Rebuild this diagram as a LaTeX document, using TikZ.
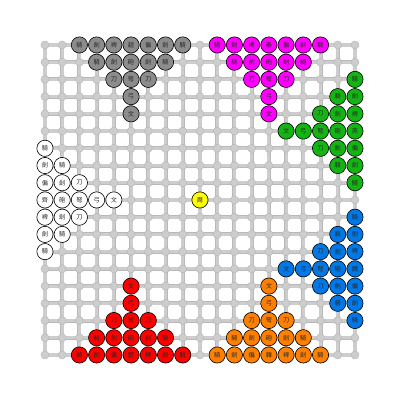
\documentclass[tikz,border=0pt]{standalone}
\usepackage{fontspec}
\newfontfamily\cjk{Noto Sans CJK TC}[BoldFont={Noto Sans CJK TC}]
\definecolor{pgray}{RGB}{140,140,140}
\definecolor{pmag}{RGB}{255,0,255}
\definecolor{pgreen}{RGB}{20,180,20}
\definecolor{pblue}{RGB}{0,120,230}
\definecolor{porange}{RGB}{255,128,0}
\definecolor{pred}{RGB}{255,0,0}
\definecolor{pyellow}{RGB}{255,255,0}
\definecolor{pwhite}{RGB}{255,255,255}
\definecolor{gridedge}{RGB}{185,185,185}
\definecolor{gridfill}{RGB}{205,205,205}
\definecolor{ptext}{RGB}{40,40,40}
\begin{document}
\begin{tikzpicture}[x=0.5cm,y=0.5cm,
  piece/.style={circle,draw=black,line width=0.5pt,minimum size=13.4pt,inner sep=0pt,text=ptext,font=\cjk\fontsize{5.1}{6}\selectfont},
  gridline/.style={line width=2.6pt,gridfill},
  gridedgeline/.style={line width=3.3pt,gridedge},
  gridpt/.style={circle,fill=gridfill,draw=gridedge,line width=0.4pt,minimum size=6.6pt,inner sep=0pt}]
\useasboundingbox (-2.61,2.61) rectangle (20.73,-20.73);
% grid
\foreach \i in {0,...,18}{
  \draw[gridedgeline] (\i,0) -- (\i,-18);
  \draw[gridedgeline] (0,-\i) -- (18,-\i);
}
\foreach \i in {0,...,18}{
  \draw[gridline] (\i,0) -- (\i,-18);
  \draw[gridline] (0,-\i) -- (18,-\i);
}
\foreach \i in {0,...,18}{
  \foreach \j in {0,...,18}{
    \node[gridpt] (g-\i-\j) at (\i,-\j) {};
  }
}
% Zhao (gray, top left)
\foreach \c/\r/\t in {2/0/騎,3/0/劍,4/0/裨,5/0/趙,6/0/偏,7/0/劍,8/0/騎,3/1/騎,4/1/劍,5/1/砲,6/1/劍,7/1/騎,4/2/刀,5/2/弩,6/2/刀,5/3/弓,5/4/文}
  \node[piece,fill=pgray] (p-\c-\r) at (\c,-\r) {\t};
% Qin (magenta, top right)
\foreach \c/\r/\t in {10/0/騎,11/0/劍,12/0/裨,13/0/秦,14/0/偏,15/0/劍,16/0/騎,11/1/騎,12/1/劍,13/1/砲,14/1/劍,15/1/騎,12/2/刀,13/2/弩,14/2/刀,13/3/弓,13/4/文}
  \node[piece,fill=pmag] (p-\c-\r) at (\c,-\r) {\t};
% Yan (green, right upper)
\foreach \c/\r/\t in {18/2/騎,18/3/劍,18/4/裨,18/5/燕,18/6/偏,18/7/劍,18/8/騎,17/3/騎,17/4/劍,17/5/砲,17/6/劍,17/7/騎,16/4/刀,16/5/弩,16/6/刀,15/5/弓,14/5/文}
  \node[piece,fill=pgreen] (p-\c-\r) at (\c,-\r) {\t};
% Wei (blue, right lower)
\foreach \c/\r/\t in {18/10/騎,18/11/劍,18/12/裨,18/13/魏,18/14/偏,18/15/劍,18/16/騎,17/11/騎,17/12/劍,17/13/砲,17/14/劍,17/15/騎,16/12/刀,16/13/弩,16/14/刀,15/13/弓,14/13/文}
  \node[piece,fill=pblue] (p-\c-\r) at (\c,-\r) {\t};
% Han (orange, bottom right)
\foreach \c/\r/\t in {10/18/騎,11/18/劍,12/18/偏,13/18/韓,14/18/裨,15/18/劍,16/18/騎,11/17/騎,12/17/劍,13/17/砲,14/17/劍,15/17/騎,12/16/刀,13/16/弩,14/16/刀,13/15/弓,13/14/文}
  \node[piece,fill=porange] (p-\c-\r) at (\c,-\r) {\t};
% Chu (red, bottom left)
\foreach \c/\r/\t in {2/18/騎,3/18/劍,4/18/偏,5/18/楚,6/18/裨,7/18/劍,8/18/騎,3/17/騎,4/17/劍,5/17/砲,6/17/劍,7/17/騎,4/16/刀,5/16/弩,6/16/刀,5/15/弓,5/14/文}
  \node[piece,fill=pred] (p-\c-\r) at (\c,-\r) {\t};
% Qi (white, left)
\foreach \c/\r/\t in {0/6/騎,0/7/劍,0/8/偏,0/9/齊,0/10/裨,0/11/劍,0/12/騎,1/7/騎,1/8/劍,1/9/砲,1/10/劍,1/11/騎,2/8/刀,2/9/弩,2/10/刀,3/9/弓,4/9/文}
  \node[piece,fill=pwhite] (p-\c-\r) at (\c,-\r) {\t};
% Zhou (center)
\node[piece,fill=pyellow] (zhou) at (9,-9) {周};
\end{tikzpicture}
\end{document}
